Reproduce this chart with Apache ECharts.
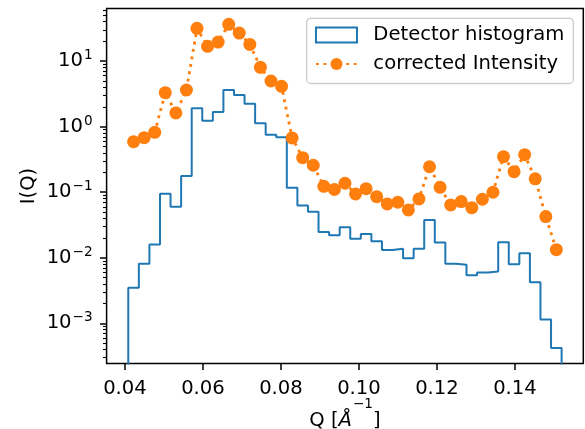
<!DOCTYPE html>
<html>
<head>
<meta charset="utf-8">
<script src="https://cdn.jsdelivr.net/npm/echarts@6/dist/echarts.min.js"></script>
<style>
  html, body { margin: 0; padding: 0; background: #ffffff; }
  #chart { width: 585px; height: 429px; }
</style>
</head>
<body>
<div id="chart"></div>
<script>
// Histogram bin edges along Q (1/Å)
const binEdges = [
  0.04085, 0.04356, 0.04627, 0.04898, 0.05169, 0.05440, 0.05711, 0.05982,
  0.06253, 0.06524, 0.06795, 0.07066, 0.07337, 0.07608, 0.07879, 0.08150,
  0.08421, 0.08692, 0.08963, 0.09234, 0.09505, 0.09776, 0.10047, 0.10318,
  0.10589, 0.10860, 0.11131, 0.11402, 0.11673, 0.11944, 0.12215, 0.12486,
  0.12757, 0.13028, 0.13299, 0.13570, 0.13841, 0.14112, 0.14383, 0.14654,
  0.14925, 0.15196
];

// Bin centres where the corrected intensity is evaluated
const binCenters = [
  0.04221, 0.04492, 0.04763, 0.05034, 0.05305, 0.05576, 0.05847, 0.06118,
  0.06389, 0.06660, 0.06931, 0.07202, 0.07473, 0.07744, 0.08015, 0.08286,
  0.08557, 0.08828, 0.09099, 0.09370, 0.09641, 0.09912, 0.10183, 0.10454,
  0.10725, 0.10996, 0.11267, 0.11538, 0.11809, 0.12080, 0.12351, 0.12622,
  0.12893, 0.13164, 0.13435, 0.13706, 0.13977, 0.14248, 0.14519, 0.14790,
  0.15061
];

// Raw detector histogram, one value per bin
const detectorCounts = [
  0.0035, 0.0081, 0.0159, 0.095, 0.0603, 0.177, 1.91, 1.23,
  1.68, 3.63, 3.04, 2.24, 1.13, 0.755, 0.689, 0.117,
  0.0625, 0.0506, 0.0248, 0.0221, 0.0292, 0.0196, 0.0231, 0.0179,
  0.0132, 0.0137, 0.0098, 0.0137, 0.0378, 0.0171, 0.0081, 0.0078,
  0.00543, 0.00595, 0.00616, 0.0173, 0.00798, 0.0117, 0.00425, 0.00114,
  0.000419
];

// Corrected scattering intensity I(Q) at the bin centres
const correctedIntensity = [
  0.59, 0.68, 0.82, 3.30, 1.62, 3.63, 31.6, 16.8,
  19.5, 36.4, 26.8, 18.0, 8.04, 4.98, 4.13, 0.673,
  0.337, 0.258, 0.123, 0.110, 0.137, 0.0942, 0.1135, 0.0857,
  0.0663, 0.0704, 0.0537, 0.079, 0.245, 0.119, 0.064, 0.072,
  0.0582, 0.0782, 0.100, 0.349, 0.206, 0.374, 0.160, 0.0425,
  0.0133
];

const xTickValues = [0.04, 0.06, 0.08, 0.10, 0.12, 0.14];
const yTickValues = [1e-3, 1e-2, 1e-1, 1, 10];

const X_MIN = 0.03529, X_MAX = 0.15752;
const Y_MIN = 2.44e-4, Y_MAX = 63.5;
// Count level used to close the step outline below the visible range
const HIST_FLOOR = 1e-9;

const FONT = 'DejaVu Sans';
const FS = 19.6;
const SUP_FS = 13.6;
const BLUE = '#1f77b4';
const ORANGE = '#ff7f0e';

// Minor log ticks at 2..9 x 10^n inside the axis range
const yMinorTicks = [];
for (let d = -4; d <= 1; d++) {
  for (let m = 2; m <= 9; m++) {
    const v = m * Math.pow(10, d);
    if (v > Y_MIN && v < Y_MAX) yMinorTicks.push(v);
  }
}

// Step outline of the histogram (matplotlib histtype='step')
const histOutline = [[binEdges[0], HIST_FLOOR]];
for (let i = 0; i < detectorCounts.length; i++) {
  histOutline.push([binEdges[i], detectorCounts[i]]);
}
histOutline.push([binEdges[binEdges.length - 1], detectorCounts[detectorCounts.length - 1]]);
histOutline.push([binEdges[binEdges.length - 1], HIST_FLOOR]);

const intensityPoints = binCenters.map((q, i) => [q, correctedIntensity[i]]);

function powerLabel(v) {
  const e = Math.round(Math.log10(v));
  const exp = e < 0 ? '\u2212' + (-e) : String(e);
  return '{b|10}{s|' + exp + '}';
}

const chart = echarts.init(document.getElementById('chart'), null, { renderer: 'canvas' });

chart.setOption({
  animation: false,
  backgroundColor: '#ffffff',
  textStyle: { fontFamily: FONT },
  grid: {
    left: 106.6, right: 1.7, top: 8.5, bottom: 65.5,
    show: true, borderColor: '#000000', borderWidth: 1.5,
    backgroundColor: 'transparent',
    containLabel: false, outerBoundsMode: 'none'
  },
  legend: {
    orient: 'vertical',
    right: 11.7, top: 18.3,
    itemWidth: 41, itemHeight: 15, itemGap: 8.9,
    padding: [6.7, 9, 9.6, 8.3],
    backgroundColor: '#ffffff',
    borderColor: '#cccccc', borderWidth: 1.3, borderRadius: 4,
    selectedMode: false,
    textStyle: { fontSize: FS, fontFamily: FONT, color: '#000000', padding: [0, 0, 0, 11.4] },
    data: [
      { name: 'Detector histogram', icon: 'rect',
        itemStyle: { color: '#ffffff', borderColor: BLUE, borderWidth: 2 } },
      { name: 'corrected Intensity' }
    ]
  },
  xAxis: {
    type: 'value', min: X_MIN, max: X_MAX,
    name: '{r|Q [}{i|Å}{s|\u22121}{r|]}',
    nameLocation: 'middle', nameGap: 47.5, nameMoveOverlap: false,
    nameTextStyle: {
      rich: {
        r: { fontSize: FS, fontFamily: FONT, color: '#000', lineHeight: FS, verticalAlign: 'bottom' },
        i: { fontSize: FS, fontFamily: FONT, fontStyle: 'italic', color: '#000', lineHeight: FS, verticalAlign: 'bottom' },
        s: { fontSize: SUP_FS, fontFamily: FONT, color: '#000', lineHeight: SUP_FS, verticalAlign: 'bottom', padding: [0, 0, 19, 1] }
      }
    },
    axisLine: { show: false },
    splitLine: { show: false },
    axisTick: { show: true, length: 6.6, lineStyle: { color: '#000', width: 1.5 }, customValues: xTickValues },
    axisLabel: {
      show: true, margin: 15.5, fontSize: FS, fontFamily: FONT, color: '#000',
      customValues: xTickValues,
      formatter: v => v.toFixed(2)
    }
  },
  yAxis: [
    {
      type: 'log', logBase: 10, min: Y_MIN, max: Y_MAX, position: 'left',
      name: 'I(Q)', nameLocation: 'middle', nameGap: 68, nameRotate: 90, nameMoveOverlap: false,
      nameTextStyle: { fontSize: FS, fontFamily: FONT, color: '#000' },
      axisLine: { show: false },
      splitLine: { show: false },
      minorTick: { show: false },
      axisTick: { show: true, length: 6.6, lineStyle: { color: '#000', width: 1.5 }, customValues: yTickValues },
      axisLabel: {
        show: true, margin: 14, color: '#000',
        customValues: yTickValues,
        formatter: powerLabel,
        rich: {
          b: { fontSize: FS, fontFamily: FONT, color: '#000', lineHeight: FS, verticalAlign: 'bottom' },
          s: { fontSize: SUP_FS, fontFamily: FONT, color: '#000', lineHeight: SUP_FS, verticalAlign: 'bottom', padding: [0, 0, 8.5, 1] }
        }
      }
    },
    {
      type: 'log', logBase: 10, min: Y_MIN, max: Y_MAX, position: 'left',
      axisLine: { show: false },
      splitLine: { show: false },
      axisLabel: { show: false },
      axisTick: { show: true, length: 3.6, lineStyle: { color: '#000', width: 1.1 }, customValues: yMinorTicks }
    }
  ],
  series: [
    {
      name: 'Detector histogram',
      type: 'line',
      step: 'end',
      data: histOutline,
      yAxisIndex: 0,
      symbol: 'none',
      showSymbol: false,
      clip: true,
      color: BLUE,
      lineStyle: { color: BLUE, width: 2 },
      z: 2
    },
    {
      name: 'corrected Intensity',
      type: 'line',
      data: intensityPoints,
      yAxisIndex: 0,
      symbol: 'circle',
      symbolSize: 13,
      showSymbol: true,
      clip: true,
      color: ORANGE,
      itemStyle: { color: ORANGE, borderWidth: 0 },
      lineStyle: { color: ORANGE, width: 2.85, type: [2.85, 4.7], cap: 'butt' },
      z: 3
    }
  ]
});
</script>
</body>
</html>
